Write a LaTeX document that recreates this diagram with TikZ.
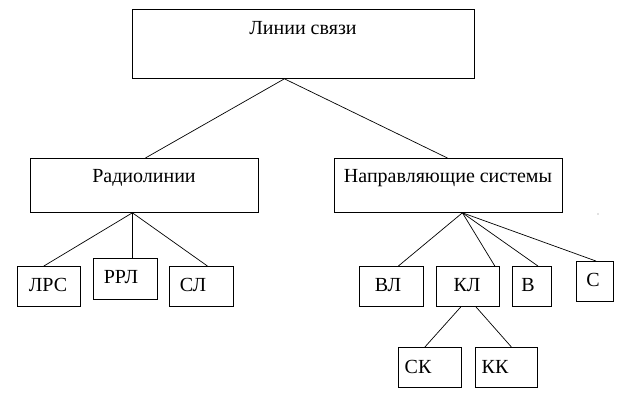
\documentclass[tikz,border=0pt]{standalone}
\usepackage{fontspec}
\setmainfont{Liberation Serif}
\begin{document}
\begin{tikzpicture}[x=1pt,y=-1pt,
  box/.style={draw,line width=0.8pt,inner sep=0pt,anchor=north west},
  lbl/.style={inner sep=0pt,font=\fontsize{20}{20}\selectfont},
  link/.style={line width=0.7pt}]
\useasboundingbox (0,0) rectangle (629,408);
% boxes
\node[box,minimum width=342pt,minimum height=69pt] (top) at (132,9) {};
\node[box,minimum width=228pt,minimum height=54pt] (rad) at (30,158) {};
\node[box,minimum width=228pt,minimum height=54pt] (nap) at (334,158) {};
\node[box,minimum width=63pt,minimum height=40pt] (lrs) at (17,266) {};
\node[box,minimum width=64pt,minimum height=41pt] (rrl) at (93,258) {};
\node[box,minimum width=64pt,minimum height=40pt] (sl) at (169,266) {};
\node[box,minimum width=64pt,minimum height=40pt] (vl) at (359,266) {};
\node[box,minimum width=63pt,minimum height=40pt] (kl) at (436,266) {};
\node[box,minimum width=39pt,minimum height=40pt] (v) at (512,266) {};
\node[box,minimum width=37pt,minimum height=40pt] (s) at (576,261) {};
\node[box,minimum width=63pt,minimum height=40pt] (sk) at (398,347) {};
\node[box,minimum width=62pt,minimum height=40pt] (kk) at (475,347) {};
% texts
\node[lbl] (ttop) at (303,28) {Линии связи};
\node[lbl] (trad) at (144,178) {Радиолинии};
\node[lbl] (tnap) at (448,178) {Направляющие системы};
\node[lbl] (tlrs) at (48,285) {ЛРС};
\node[lbl] (trrl) at (121,277) {РРЛ};
\node[lbl] (tsl) at (193,285) {СЛ};
\node[lbl] (tvl) at (388,285) {ВЛ};
\node[lbl] (tkl) at (467,285) {КЛ};
\node[lbl] (tv) at (528,285) {В};
\node[lbl] (ts) at (593,280) {С};
\node[lbl] (tsk) at (418,367) {СК};
\node[lbl] (tkk) at (495,367) {КК};
% connectors
\draw[link] ([xshift=-19pt]top.south) -- ([xshift=1pt]rad.north);
\draw[link] ([xshift=-19pt]top.south) -- ([xshift=-1pt]nap.north);
\draw[link] ([xshift=-12pt]rad.south) -- ([xshift=-5pt]lrs.north);
\draw[link] ([xshift=-12pt]rad.south) -- ([xshift=7pt]rrl.north);
\draw[link] ([xshift=-12pt]rad.south) -- ([xshift=6pt]sl.north);
\draw[link] ([xshift=14pt]nap.south) -- ([xshift=7pt]vl.north);
\draw[link] ([xshift=14pt]nap.south) -- ([xshift=-5pt]kl.north east);
\draw[link] ([xshift=14pt]nap.south) -- ([xshift=6pt]v.north);
\draw[link] ([xshift=14pt]nap.south) -- ([xshift=1pt]s.north);
\draw[link] ([xshift=-7pt]kl.south) -- ([xshift=-5pt]sk.north);
\draw[link] ([xshift=8pt]kl.south) -- ([xshift=5pt]kk.north);
\fill[gray] (598,214) circle (0.6pt);
\end{tikzpicture}
\end{document}
